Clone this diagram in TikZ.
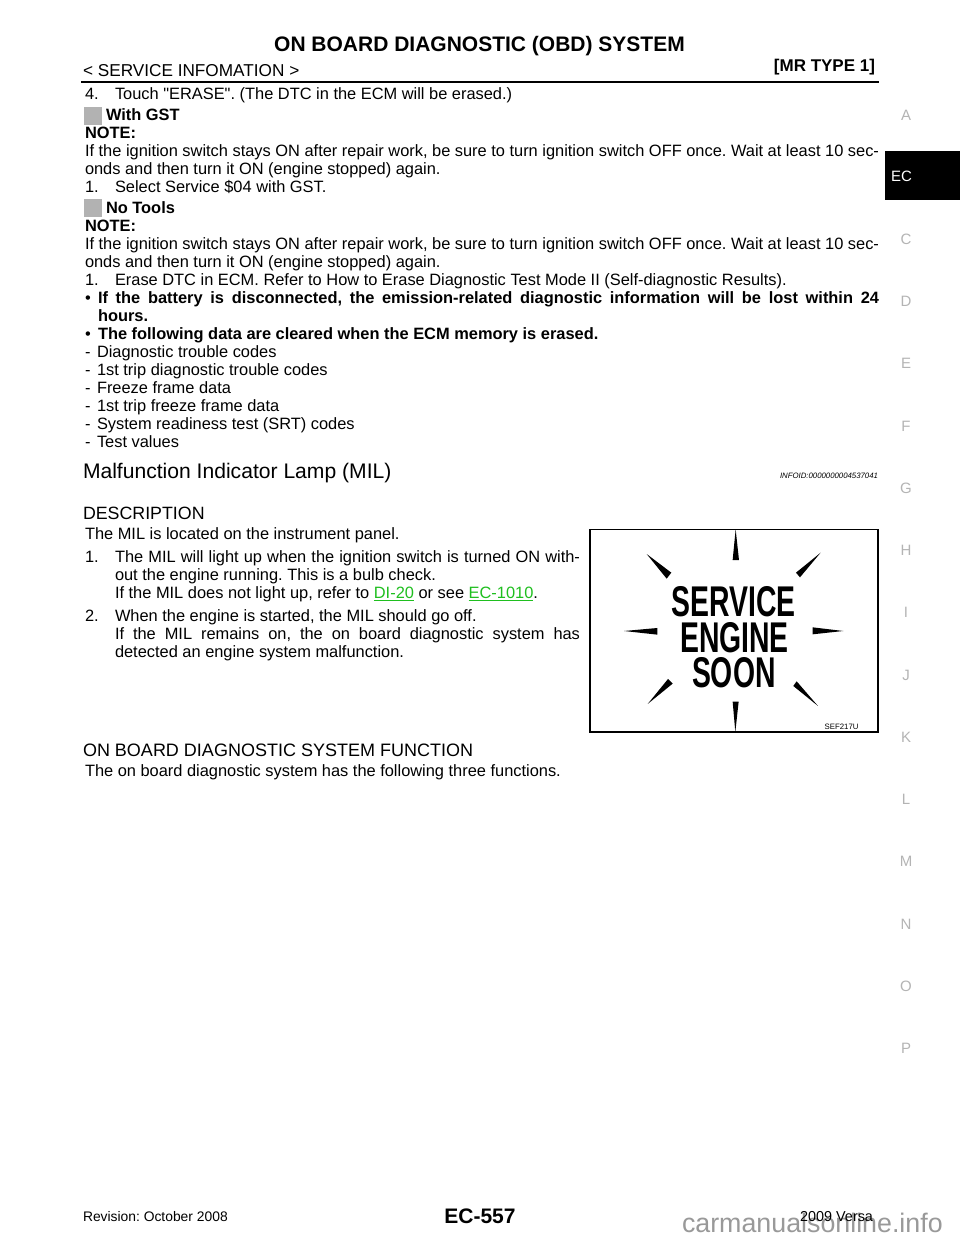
\documentclass[tikz,border=0pt]{standalone}
\usepackage{fontspec}
\setmainfont{Liberation Sans}[Ligatures=TeXOff]
\frenchspacing
\newcommand{\bodyfs}{\fontsize{16.4}{18}\selectfont\frenchspacing}
\newcommand{\tl}[3]{\node[txt] at (#1,#2+5.5) {\bodyfs #3};}
\newcommand{\tj}[4]{\node[txt] at (#1,#2+5.5) {\bodyfs\makebox[#3pt][s]{#4}};}
\newcommand{\side}[2]{\node[sidelab] at (906,#1) {#2};}
\newcommand{\linky}[1]{\textcolor{linkgreen}{\underline{#1}}}
\definecolor{linkgreen}{HTML}{1FBF1F}
\definecolor{sidegray}{HTML}{B4B4B4}
\definecolor{chip}{HTML}{B2B2B2}
\definecolor{wmark}{HTML}{999999}
\tikzset{
 txt/.style={anchor=base west,inner sep=0pt,outer sep=0pt},
 txtr/.style={anchor=base east,inner sep=0pt,outer sep=0pt},
 sidelab/.style={inner sep=0pt,text=sidegray,font=\fontsize{15}{15}\selectfont},
 bigword/.style={anchor=base,inner sep=0pt,xscale=.66,transform shape,font=\fontsize{43}{43}\selectfont\bfseries},
 ray/.style={fill=black,draw=none},
}
\begin{document}
\begin{tikzpicture}[x=1pt,y=-1pt]
\useasboundingbox (0,0) rectangle (960,1242);
\fill[white] (0,0) rectangle (960,1242);
% header
\node[anchor=base,inner sep=0pt] at (479.5,51) {\fontsize{21}{22}\selectfont\bfseries ON BOARD DIAGNOSTIC (OBD) SYSTEM};
\node[txt] at (83,76) {\fontsize{17.2}{18}\selectfont < SERVICE INFOMATION >};
\node[txtr] at (875,71.5) {\fontsize{17}{18}\selectfont\bfseries [MR TYPE 1]};
\draw[line width=2pt] (81,82) -- (879,82);
% side tabs
\fill[black] (884.5,150.7) rectangle (960,200);
\node[anchor=base west,inner sep=0pt,text=white] at (891,181.5) {\fontsize{15}{15}\selectfont EC};
\side{115}{A}\side{239}{C}\side{301}{D}\side{363}{E}\side{426}{F}\side{488}{G}\side{550}{H}\side{612}{I}\side{675}{J}\side{737}{K}\side{799}{L}\side{861}{M}\side{924}{N}\side{986}{O}\side{1048}{P}
% body
\tl{85}{94}{4.}\tl{115}{94}{Touch "ERASE". (The DTC in the ECM will be erased.)}
\fill[chip] (84,107) rectangle (102,125);
\tl{106}{115}{\bfseries With GST}
\tl{85}{133}{\bfseries NOTE:}
\tj{85}{151}{794}{If the ignition switch stays ON after repair work, be sure to turn ignition switch OFF once. Wait at least 10 sec-}
\tl{85}{169}{onds and then turn it ON (engine stopped) again.}
\tl{85}{187}{1.}\tl{115}{187}{Select Service \$04 with GST.}
\fill[chip] (84,199) rectangle (102,217);
\tl{106}{208}{\bfseries No Tools}
\tl{85}{226}{\bfseries NOTE:}
\tj{85}{244}{794}{If the ignition switch stays ON after repair work, be sure to turn ignition switch OFF once. Wait at least 10 sec-}
\tl{85}{262}{onds and then turn it ON (engine stopped) again.}
\tl{85}{280}{1.}\tl{115}{280}{Erase DTC in ECM. Refer to How to Erase Diagnostic Test Mode II (Self-diagnostic Results).}
\tl{85}{298}{•}
\tj{98}{298}{781}{\bfseries If the battery is disconnected, the emission-related diagnostic information will be lost within 24}
\tl{98}{316}{\bfseries hours.}
\tl{85}{334}{•}
\tl{98}{334}{\bfseries The following data are cleared when the ECM memory is erased.}
\tl{85}{352}{-}\tl{97}{352}{Diagnostic trouble codes}
\tl{85}{370}{-}\tl{97}{370}{1st trip diagnostic trouble codes}
\tl{85}{388}{-}\tl{97}{388}{Freeze frame data}
\tl{85}{406}{-}\tl{97}{406}{1st trip freeze frame data}
\tl{85}{424}{-}\tl{97}{424}{System readiness test (SRT) codes}
\tl{85}{442}{-}\tl{97}{442}{Test values}
% headings
\node[txt] at (83,478) {\fontsize{21.1}{22}\selectfont Malfunction Indicator Lamp (MIL)};
\node[txtr] at (878,478) {\fontsize{7.8}{10}\selectfont\itshape INFOID:0000000004537041};
\node[txt] at (83,519) {\fontsize{17.8}{20}\selectfont DESCRIPTION};
\tl{85}{534}{The MIL is located on the instrument panel.}
\tl{85}{557}{1.}\tj{115}{557}{465}{The MIL will light up when the ignition switch is turned ON with-}
\tl{115}{575}{out the engine running. This is a bulb check.}
\tl{115}{593}{If the MIL does not light up, refer to \linky{DI-20} or see \linky{EC-1010}.}
\tl{85}{616}{2.}\tl{115}{616}{When the engine is started, the MIL should go off.}
\tj{115}{634}{465}{If the MIL remains on, the on board diagnostic system has}
\tl{115}{652}{detected an engine system malfunction.}
\node[txt] at (83,756) {\fontsize{18}{20}\selectfont ON BOARD DIAGNOSTIC SYSTEM FUNCTION};
\tl{85}{771}{The on board diagnostic system has the following three functions.}
% illustration
\draw[line width=1.6pt] (590,529.3) rectangle (877.7,732);
\begin{scope}[shift={(580,520)},x=0.3333pt,y=-0.3333pt]
\fill[ray] (467,28) -- (458,120) -- (477,120) -- cycle;
\fill[ray] (722,98) -- (648,158) -- (660,172) -- cycle;
\fill[ray] (200,102) -- (274,158) -- (260,176) -- cycle;
\fill[ray] (132,333) -- (232,324) -- (232,344) -- cycle;
\fill[ray] (790,333) -- (698,322) -- (698,343) -- cycle;
\fill[ray] (203,552) -- (264,477) -- (278,491) -- cycle;
\fill[ray] (714,558) -- (650,484) -- (640,498) -- cycle;
\fill[ray] (466,636) -- (458,545) -- (476,545) -- cycle;
\end{scope}
\node[bigword] at (733.5,616.7) {SERVICE};
\node[bigword] at (734.5,652.3) {ENGINE};
\node[bigword] at (733.8,687.7) {SOON};
\node[txtr] at (858.5,729) {\fontsize{7.8}{10}\selectfont SEF217U};
% footer
\node[txt,text=wmark] at (682,1232) {\fontsize{26.8}{28}\selectfont carmanualsonline.info};
\node[txt] at (83,1221) {\fontsize{13.85}{15}\selectfont Revision: October 2008};
\node[txtr] at (873,1221) {\fontsize{14.4}{15}\selectfont 2009 Versa};
\node[anchor=base,inner sep=0pt] at (480,1223) {\fontsize{21}{22}\selectfont\bfseries EC-557};
\end{tikzpicture}
\end{document}
